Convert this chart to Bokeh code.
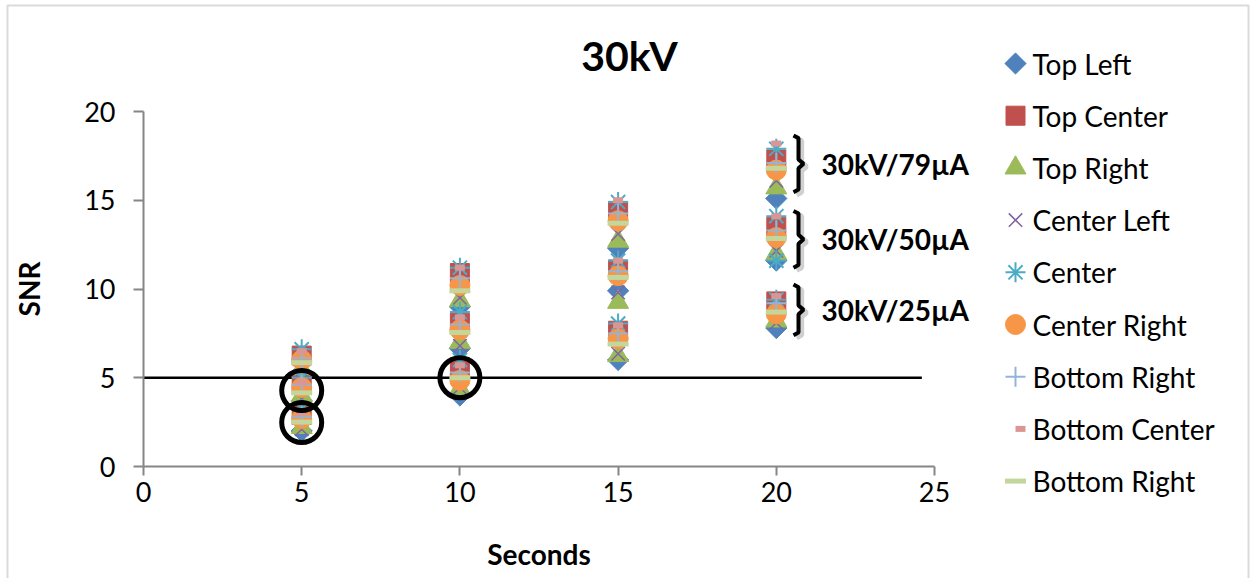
import math
from bokeh.plotting import figure
from bokeh.models import Label, BoxAnnotation, FixedTicker, Range1d, ColumnDataSource
from bokeh.core.properties import value
from bokeh.embed import file_html
from bokeh.resources import INLINE

# Exposure time (s) for each measurement: 25, 50 and 79 uA at each time step
seconds = [5, 5, 5, 10, 10, 10, 15, 15, 15, 20, 20, 20]

top_left = [2.0, 3.7, 5.3, 4.0, 6.65, 9.0, 6.0, 9.9, 12.3, 7.8, 11.6, 15.1]
top_center = [2.9, 4.7, 6.25, 5.6, 8.1, 10.9, 7.65, 11.1, 14.4, 9.3, 13.5, 17.3]
top_right = [2.2, 4.0, 5.5, 4.4, 7.0, 9.35, 6.25, 9.25, 12.7, 8.2, 12.0, 15.7]
center_left = [2.1, 3.8, 5.4, 4.45, 6.8, 9.5, 6.35, 9.8, 13.1, 8.1, 12.15, 16.1]
center_x = seconds + [20]
center = [3.25, 5.0, 6.6, 6.0, 8.7, 11.2, 8.05, 11.6, 14.9, 9.4, 14.1, 17.9, 11.6]
center_right = [2.7, 4.45, 6.0, 4.85, 7.7, 10.2, 7.2, 10.75, 13.85, 8.6, 12.9, 16.7]
bottom_right = [2.8, 4.6, 6.1, 5.3, 8.0, 10.6, 7.5, 11.0, 14.25, 9.2, 13.3, 17.1]
bottom_center = [3.0, 4.75, 6.5, 5.7, 8.4, 11.2, 7.95, 11.6, 15.0, 9.6, 14.1, 18.2]
bottom_right_2 = [2.5, 4.15, 5.85, 5.0, 7.55, 9.9, 6.9, 10.65, 13.7, 8.7, 12.85, 16.8]

# Threshold and highlighted measurements
threshold = 5
circled_x = [5, 5, 10]
circled_y = [4.28, 2.48, 5.0]

# Beam settings grouped at the 20 s column (SNR span of each brace)
beam_labels = ["30kV/25\u00b5A", "30kV/50\u00b5A", "30kV/79\u00b5A"]
brace_lo = [7.4, 11.2, 15.45]
brace_hi = [10.25, 14.4, 18.65]

x_ticks = [0, 5, 10, 15, 20, 25]
y_ticks = [0, 5, 10, 15, 20]

FONT = "Lato"
W, H = 1250, 578
# pixel placement of the axes inside the canvas
X0_PX, X25_PX = 143, 934
Y0_PX, Y20_PX = 466, 111
sx = (X25_PX - X0_PX) / 25.0
sy = (Y0_PX - Y20_PX) / 20.0


def px_x(px):
    return (px - X0_PX) / sx


def px_y(py):
    return (Y0_PX - py) / sy


p = figure(width=W, height=H, output_backend="svg", toolbar_location=None,
           x_range=Range1d(px_x(0), px_x(W)), y_range=Range1d(px_y(H), px_y(0)),
           min_border=0, min_border_left=0, min_border_right=0,
           min_border_top=0, min_border_bottom=0)
p.outline_line_color = None
p.xgrid.visible = False
p.ygrid.visible = False
p.background_fill_color = "white"
p.border_fill_color = "white"

for ax in (p.xaxis[0], p.yaxis[0]):
    ax.fixed_location = 0
    ax.axis_line_color = "#868686"
    ax.axis_line_width = 2
    ax.major_tick_line_color = "#868686"
    ax.major_tick_line_width = 2
    ax.minor_tick_line_color = None
    ax.major_tick_in = 0
    ax.major_label_text_font = FONT
    ax.major_label_text_font_size = "27px"
    ax.major_label_text_color = "black"

p.xaxis.bounds = (0, 25)
p.yaxis.bounds = (0, 20)
p.xaxis.ticker = FixedTicker(ticks=x_ticks)
p.yaxis.ticker = FixedTicker(ticks=y_ticks)
p.xaxis.major_tick_out = 9
p.yaxis.major_tick_out = 10
p.xaxis.major_label_standoff = 6
p.yaxis.major_label_standoff = 18

# Axis titles
p.add_layout(Label(x=12.5, y=px_y(553), text="Seconds", text_font=FONT,
                   text_font_size="28px", text_font_style="bold", text_color="black",
                   text_align="center", text_baseline="middle"))
p.add_layout(Label(x=px_x(28), y=10, text="SNR", text_font=FONT, angle=math.pi / 2,
                   text_font_size="28px", text_font_style="bold", text_color="black",
                   text_align="center", text_baseline="middle"))

# Chart title
p.add_layout(Label(x=px_x(629), y=px_y(55), text="30kV", text_font=FONT,
                   text_font_size="41px", text_font_style="bold", text_color="black",
                   text_align="center", text_baseline="middle"))

# SNR = 5 threshold line
p.line(x=[0, 24.6], y=[threshold, threshold], line_color="black", line_width=2.5)

series = [
    ("Top Left", seconds, top_left,
     dict(marker="square", size=15, angle=math.pi / 4, fill_color="#4F81BD", line_color="#4F81BD")),
    ("Top Center", seconds, top_center,
     dict(marker="square", size=19, fill_color="#C0504D", line_color="#C0504D")),
    ("Top Right", seconds, top_right,
     dict(marker="triangle", size=21, fill_color="#9BBB59", line_color="#9BBB59")),
    ("Center Left", seconds, center_left,
     dict(marker="x", size=19, line_color="#8064A2", line_width=1.5)),
    ("Center", center_x, center,
     dict(marker="asterisk", size=20, line_color="#4BACC6", line_width=2)),
    ("Center Right", seconds, center_right,
     dict(marker="circle", size=20, fill_color="#F79646", line_color="#F79646")),
    ("Bottom Right", seconds, bottom_right,
     dict(marker="cross", size=20, line_color="#95B3D7", line_width=2)),
    ("Bottom Center", seconds, bottom_center,
     dict(marker="dash", size=10, line_color="#D99694", line_width=6)),
    ("Bottom Right", seconds, bottom_right_2,
     dict(marker="dash", size=21, line_color="#C3D69B", line_width=5)),
]

for name, xs, ys, style in series:
    src = ColumnDataSource(data=dict(x=xs, y=ys))
    p.scatter(x="x", y="y", source=src, **style)

# Legend: one marker + label per series, stacked down the right side
LEG_MARK_PX, LEG_TEXT_PX, LEG_TOP_PX, LEG_STEP_PX = 1015, 1032, 63, 52.2
for k, (name, _, _, style) in enumerate(series):
    ly = px_y(LEG_TOP_PX + k * LEG_STEP_PX)
    mark_px = LEG_MARK_PX + (5 if style.get("size", 20) < 12 else 0)
    p.scatter(x=[px_x(mark_px)], y=[ly], **style)
    p.text(x=[px_x(LEG_TEXT_PX)], y=[ly], text=[name], text_font=value(FONT),
           text_font_size="28px", text_color="black", text_baseline="middle")

# Circles around the measurements near / below the threshold
p.scatter(x=circled_x, y=circled_y, marker="circle", size=40, fill_color=None,
          line_color="black", line_width=5)

# Curly braces grouping each beam setting at the 20 s column
xv, xh, xn = px_x(798), px_x(793), px_x(803)
for k in range(3):
    lo, hi = brace_lo[k], brace_hi[k]
    mid = (lo + hi) / 2
    bx = [xh, xv, xv, xn, xv, xv, xh]
    by = [hi, hi - 0.15, mid + 0.25, mid, mid - 0.25, lo + 0.15, lo]
    p.line(x=[v + 0.1 for v in bx], y=[v - 0.15 for v in by], line_color="#b0b0b0",
           line_width=5, line_alpha=0.6)
    p.line(x=bx, y=by, line_color="black", line_width=4)
    p.add_layout(Label(x=px_x(821), y=mid, text=beam_labels[k], text_font=FONT,
                       text_font_size="28px", text_font_style="bold",
                       text_color="black", text_baseline="middle"))

# Chart area border
p.add_layout(BoxAnnotation(left=px_x(7), right=px_x(1248), top=px_y(5), bottom=px_y(H + 20),
                           fill_color=None, line_color="#868686", line_width=2))

open("out.html", "w").write(file_html(p, INLINE))
